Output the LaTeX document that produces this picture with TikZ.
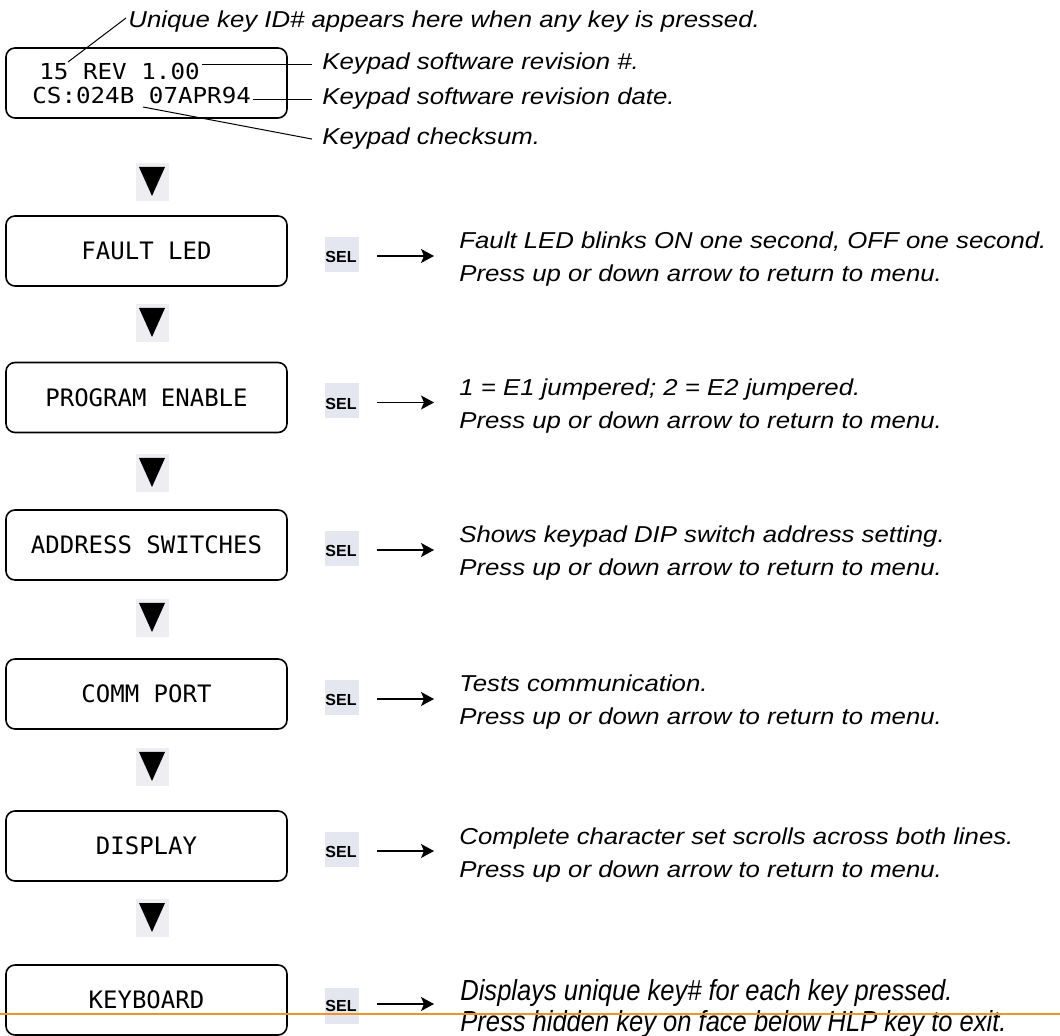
\documentclass[tikz,border=0pt]{standalone}
\usepackage{fontspec}
\setmainfont{Liberation Sans}
\newfontfamily\notefont[FakeStretch=1.12]{Liberation Sans}
\newfontfamily\keynotefont[FakeStretch=0.88]{Liberation Sans}
\newfontfamily\lcdfont{DejaVu Sans Mono}
\newfontfamily\lcdtopfont[FakeStretch=1.1]{DejaVu Sans Mono}
\usetikzlibrary{arrows.meta}
\definecolor{halocol}{RGB}{229,231,240}
\definecolor{trihalo}{RGB}{238,238,242}
\definecolor{scanline}{RGB}{236,150,40}
\newcommand\menurow[5]{%
  \node[lcdbox] (#1) at (146.5,#2) {#3};
  \fill[halocol] (325,#2-14) rectangle (359,#2+21);
  \node[seltag] (#1sel) at (341,#2+6) {SEL};
  \coordinate (#1as) at (377,#2+5);
  \coordinate (#1ae) at (434,#2+5);
  \draw[selarrow] (#1as) -- (#1ae);
  \node[note] (#1ta) at (459,#2-2) {#4};
  \node[note] (#1tb) at (459,#2+31) {#5};
}
\newcommand\downtri[1]{%
  \fill[trihalo] (136,#1-4) rectangle (169,#1+34);
  \fill[black] (139,#1) -- (165,#1) -- (152,#1+29) -- cycle;
}
\begin{document}
\begin{tikzpicture}[x=0.5pt,y=-0.5pt,
  lcdbox/.style={draw, line width=0.8pt, rounded corners=4.5pt,
    minimum width=140.5pt, minimum height=35pt, inner sep=0pt,
    font=\lcdfont\fontsize{12}{14}\selectfont, text height=8.75pt, text depth=0pt},
  lcdtext/.style={anchor=base west, inner sep=0pt, font=\lcdtopfont\fontsize{11}{13}\selectfont,
    text height=8pt, text depth=0pt},
  note/.style={anchor=base west, inner sep=0pt, font=\notefont\itshape\fontsize{11.5}{14}\selectfont},
  keynote/.style={anchor=base west, inner sep=0pt, font=\keynotefont\itshape\fontsize{14.5}{16}\selectfont},
  seltag/.style={inner sep=0pt, font=\bfseries\fontsize{8}{10}\selectfont, text height=5.8pt, text depth=0pt},
  selarrow/.style={line width=0.6pt, -{Stealth[length=6.5pt,width=7pt,inset=1.5pt]}},
  leader/.style={line width=0.5pt}
]
\useasboundingbox (0,0) rectangle (1060,1036);

% top display box
\node[draw, line width=0.8pt, rounded corners=4.5pt, minimum width=140.5pt,
  minimum height=35pt, inner sep=0pt] (topbox) at (146.5,83) {};
\node[lcdtext] (lcdtop1) at (39,80) {15 REV 1.00};
\node[lcdtext] (lcdtop2) at (32,104) {CS:024B 07APR94};

\node[note] (lab1) at (128,28) {Unique key ID\# appears here when any key is pressed.};
\node[note] (lab2) at (322,70) {Keypad software revision \#.};
\node[note] (lab3) at (322,105) {Keypad software revision date.};
\node[note] (lab4) at (322,145) {Keypad checksum.};

\coordinate (idstart) at (68,62);
\coordinate (idend) at (126,18);
\draw[leader] (idstart) -- (idend);
\draw[leader] ([xshift=1pt]lcdtop1.east |- lab2.west) -- ([xshift=-5pt]lab2.west);
\draw[leader] ([xshift=1pt]lcdtop2.east |- lab3.west) -- ([xshift=-5pt]lab3.west);
\coordinate (csstart) at (143,107);
\draw[leader] (csstart) -- ([xshift=-5pt]lab4.west);

% flow triangles
\downtri{167}
\downtri{308}
\downtri{458}
\downtri{603}
\downtri{752}
\downtri{903}

% menu rows
\menurow{fault}{251}{FAULT LED}{Fault LED blinks ON one second, OFF one second.}{Press up or down arrow to return to menu.}
\menurow{prog}{397.5}{PROGRAM ENABLE}{1 = E1 jumpered; 2 = E2 jumpered.}{Press up or down arrow to return to menu.}
\menurow{addr}{545}{ADDRESS SWITCHES}{Shows keypad DIP switch address setting.}{Press up or down arrow to return to menu.}
\menurow{comm}{694}{COMM PORT}{Tests communication.}{Press up or down arrow to return to menu.}
\menurow{disp}{846}{DISPLAY}{Complete character set scrolls across both lines.}{Press up or down arrow to return to menu.}

% keyboard row
\node[lcdbox] (keyb) at (146.5,1000) {KEYBOARD};
\fill[halocol] (325,988) rectangle (359,1024);
\node[seltag] (keybsel) at (341,1006) {SEL};
\coordinate (keybas) at (377,1004);
\coordinate (keybae) at (434,1004);
\draw[selarrow] (keybas) -- (keybae);
\node[keynote] (keybta) at (460,1000) {Displays unique key\# for each key pressed.};
\node[keynote] (keybtb) at (460,1031) {Press hidden key on face below HLP key to exit.};

% scan line across the bottom
\coordinate (scanl) at (0,1014);
\coordinate (scanr) at (1060,1014);
\draw[scanline, line width=0.9pt] (scanl) -- (scanr);
\end{tikzpicture}
\end{document}
